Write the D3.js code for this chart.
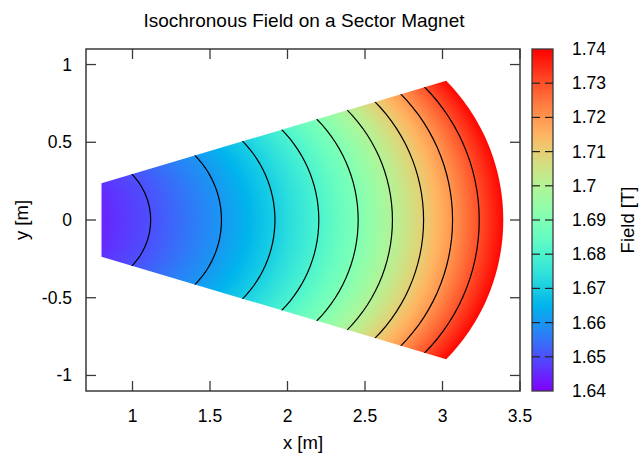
<!DOCTYPE html>
<html>
<head>
<meta charset="utf-8">
<script src="https://cdn.jsdelivr.net/npm/d3@7"></script>
<style>
  body { margin: 0; background: #fff; }
  svg { display: block; font-family: "Liberation Sans", Arial, sans-serif; }
</style>
</head>
<body>
<div id="chart"></div>
<script>
// values
const xTicks = [1, 1.5, 2, 2.5, 3, 3.5];
const yTicks = [-1, -0.5, 0, 0.5, 1];
const cbTicks = [1.64, 1.65, 1.66, 1.67, 1.68, 1.69, 1.7, 1.71, 1.72, 1.73, 1.74];

// contour levels and where each one crosses y = 0
const contourLevels = [1.65, 1.66, 1.67, 1.68, 1.69, 1.7, 1.71, 1.72, 1.73];
const contourCrossX = [1.117, 1.574, 1.919, 2.202, 2.456, 2.677, 2.878, 3.065, 3.237];

// field along y = 0, from the inner edge to the outer edge
const profileX = [0.8, 1.117, 1.574, 1.919, 2.202, 2.456, 2.677, 2.878, 3.065, 3.237, 3.392];
const profileB = [1.6445, 1.65, 1.66, 1.67, 1.68, 1.69, 1.7, 1.71, 1.72, 1.73, 1.7393];

// sector outline
const innerX = 0.8;        // straight inner edge
const edgeSlope = 0.296;   // side edges y = +-slope * x
const outerCrossX = 3.392; // outer edge on y = 0
const shapeK = 0.6;        // field lines are circles centred (s,0), radius k*s

const width = 640, height = 455;
const margin = { top: 49, right: 120, bottom: 64, left: 86 };
const W = width - margin.left - margin.right;   // 434
const H = height - margin.top - margin.bottom;  // 342

const x = d3.scaleLinear().domain([0.7, 3.5]).range([margin.left, margin.left + W]);
const y = d3.scaleLinear().domain([-1.1, 1.1]).range([margin.top + H, margin.top]);
const field = d3.scaleLinear().domain(profileX).range(profileB);
const cb = d3.scaleLinear().domain([1.64, 1.74]).range([margin.top + H, margin.top]);

// gnuplot rgbformulae 33,13,10
function palette(t) {
    t = Math.max(0, Math.min(1, t));
    const c = v => Math.round(255 * Math.max(0, Math.min(1, v)));
    return [c(Math.abs(2 * t - 0.5)), c(Math.sin(Math.PI * t)), c(Math.cos(Math.PI * t / 2))];
}
const tOf = b => (b - 1.64) / 0.1;

// equivalent crossing on y = 0 of the field line through (px, py)
function crossX(px, py) {
    const k = shapeK;
    const q = Math.max(0, k * k * px * px - (1 - k * k) * py * py);
    const s = (px - Math.sqrt(q)) / (1 - k * k);
    return s * (1 + k);
}

// right half of the field line circle that crosses y = 0 at x0
function fieldLine(x0, n = 60) {
    const s = x0 / (1 + shapeK), r = shapeK * s;
    return d3.range(n + 1).map(i => {
        const phi = -Math.PI / 2 + Math.PI * i / n;
        return [s + r * Math.cos(phi), r * Math.sin(phi)];
    });
}

const svg = d3.select("#chart").append("svg")
    .attr("width", width)
    .attr("height", height);

// heat map raster
const canvas = document.createElement("canvas");
canvas.width = W; canvas.height = H;
const ctx = canvas.getContext("2d");
const img = ctx.createImageData(W, H);
for (let j = 0; j < H; j++) {
    const vy = y.invert(margin.top + j + 0.5);
    for (let i = 0; i < W; i++) {
        const vx = x.invert(margin.left + i + 0.5);
        const rgb = palette(tOf(field(crossX(vx, vy))));
        const o = 4 * (j * W + i);
        img.data[o] = rgb[0]; img.data[o + 1] = rgb[1]; img.data[o + 2] = rgb[2]; img.data[o + 3] = 255;
    }
}
ctx.putImageData(img, 0, 0);

// sector outline
const sO = outerCrossX / (1 + shapeK), rO = shapeK * sO;
const m = edgeSlope;
const cx = (sO + Math.sqrt(sO * sO - (1 + m * m) * (1 - shapeK * shapeK) * sO * sO)) / (1 + m * m);
const phiC = Math.atan2(m * cx, cx - sO);
const outline = [[innerX, m * innerX]];
d3.range(0, 61).forEach(i => {
    const phi = phiC - (2 * phiC) * i / 60;
    outline.push([sO + rO * Math.cos(phi), rO * Math.sin(phi)]);
});
outline.push([innerX, -m * innerX]);
const line = d3.line().x(d => x(d[0])).y(d => y(d[1]));

const defs = svg.append("defs");
defs.append("clipPath").attr("id", "sector")
    .append("path").attr("d", line(outline) + "Z");

const plot = svg.append("g").attr("clip-path", "url(#sector)");
plot.append("image")
    .attr("x", margin.left).attr("y", margin.top)
    .attr("width", W).attr("height", H)
    .attr("href", canvas.toDataURL());

// field lines
plot.selectAll("path.contour")
    .data(contourCrossX)
    .join("path")
    .attr("class", "contour")
    .attr("d", d => line(fieldLine(d)))
    .attr("fill", "none")
    .attr("stroke", "#000")
    .attr("stroke-width", 1.2);

// frame and ticks
const frameColor = "#3a3a3a";
const tickLen = 10;
svg.append("rect")
    .attr("x", margin.left).attr("y", margin.top)
    .attr("width", W).attr("height", H)
    .attr("fill", "none").attr("stroke", frameColor).attr("stroke-width", 1.5);

const xt = svg.append("g").selectAll("g").data(xTicks).join("g");
xt.append("line").attr("x1", d => x(d)).attr("x2", d => x(d))
    .attr("y1", margin.top + H).attr("y2", margin.top + H - tickLen)
    .attr("stroke", frameColor).attr("stroke-width", 1.3);
xt.append("line").attr("x1", d => x(d)).attr("x2", d => x(d))
    .attr("y1", margin.top).attr("y2", margin.top + tickLen)
    .attr("stroke", frameColor).attr("stroke-width", 1.3);
xt.append("text")
    .attr("x", d => x(d)).attr("y", margin.top + H + 31)
    .attr("text-anchor", "middle").attr("font-size", 17.5)
    .text(d => d);

const yt = svg.append("g").selectAll("g").data(yTicks).join("g");
yt.append("line").attr("y1", d => y(d)).attr("y2", d => y(d))
    .attr("x1", margin.left).attr("x2", margin.left + tickLen)
    .attr("stroke", frameColor).attr("stroke-width", 1.3);
yt.append("line").attr("y1", d => y(d)).attr("y2", d => y(d))
    .attr("x1", margin.left + W).attr("x2", margin.left + W - tickLen)
    .attr("stroke", frameColor).attr("stroke-width", 1.3);
yt.append("text")
    .attr("x", margin.left - 14).attr("y", d => y(d) + 6)
    .attr("text-anchor", "end").attr("font-size", 17.5)
    .text(d => d);

// colour bar
const cbX = 532, cbW = 21;
const cbGrad = defs.append("linearGradient").attr("id", "cbgrad")
    .attr("x1", 0).attr("y1", 1).attr("x2", 0).attr("y2", 0);
cbGrad.selectAll("stop").data(d3.range(0, 1.0001, 0.05)).join("stop")
    .attr("offset", d => d)
    .attr("stop-color", d => `rgb(${palette(d).join(",")})`);
svg.append("rect")
    .attr("x", cbX).attr("y", margin.top).attr("width", cbW).attr("height", H)
    .attr("fill", "url(#cbgrad)").attr("stroke", frameColor).attr("stroke-width", 1.3);

const ct = svg.append("g").selectAll("g").data(cbTicks).join("g");
ct.filter(d => d > 1.64 && d < 1.74).append("line")
    .attr("x1", cbX).attr("x2", cbX + 8)
    .attr("y1", d => cb(d)).attr("y2", d => cb(d))
    .attr("stroke", "#222").attr("stroke-width", 1.2);
ct.filter(d => d > 1.64 && d < 1.74).append("line")
    .attr("x1", cbX + cbW).attr("x2", cbX + cbW - 8)
    .attr("y1", d => cb(d)).attr("y2", d => cb(d))
    .attr("stroke", "#222").attr("stroke-width", 1.2);
ct.append("text")
    .attr("x", 572).attr("y", d => cb(d) + 6)
    .attr("font-size", 17.5)
    .text(d => d3.format("")(+d.toFixed(2)));

// titles
svg.append("text")
    .attr("x", 304).attr("y", 27)
    .attr("text-anchor", "middle").attr("font-size", 19)
    .text("Isochronous Field on a Sector Magnet");
svg.append("text")
    .attr("x", x(2.1)).attr("y", 449)
    .attr("text-anchor", "middle").attr("font-size", 18.5)
    .text("x [m]");
svg.append("text")
    .attr("transform", `translate(28,${y(0)}) rotate(-90)`)
    .attr("text-anchor", "middle").attr("font-size", 18.5)
    .text("y [m]");
svg.append("text")
    .attr("transform", `translate(634,${y(0)}) rotate(-90)`)
    .attr("text-anchor", "middle").attr("font-size", 18.5)
    .text("Field [T]");
</script>
</body>
</html>
